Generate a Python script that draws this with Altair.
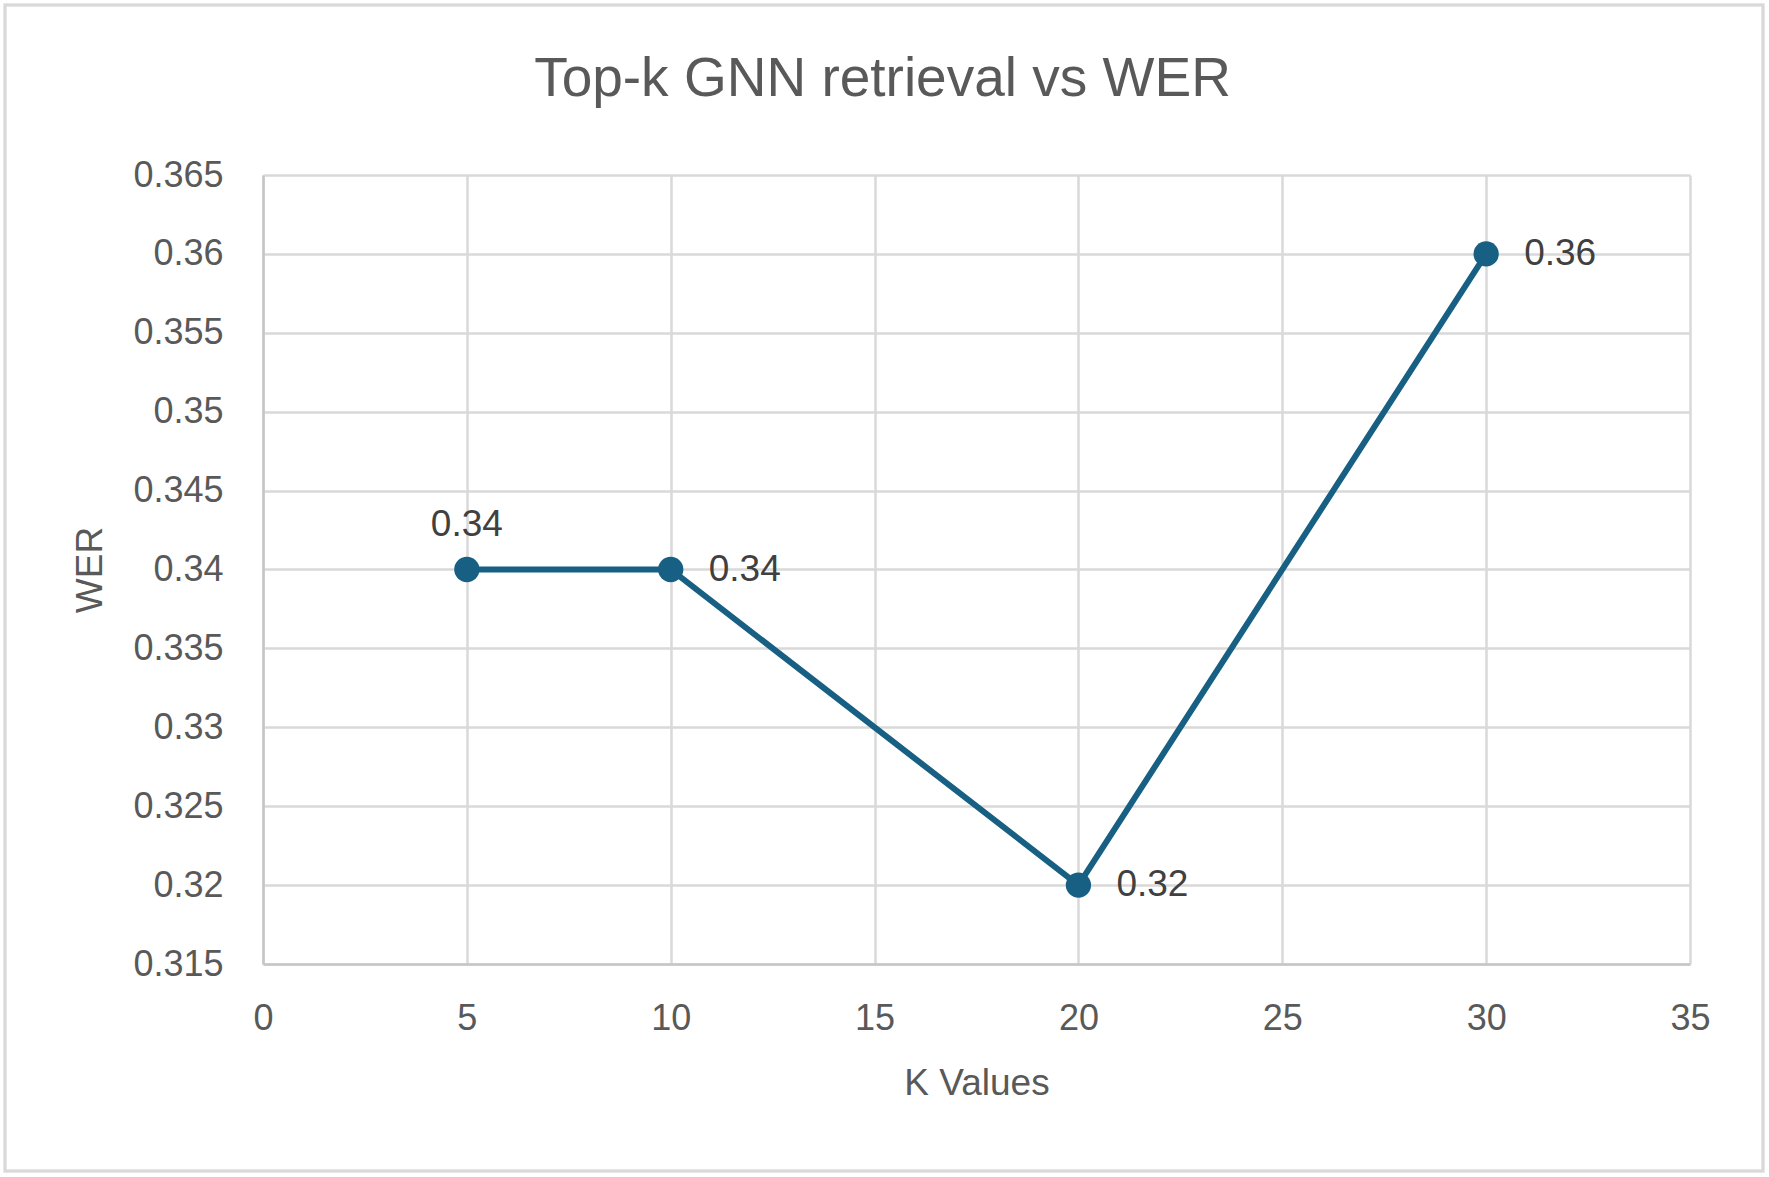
import altair as alt
import pandas as pd

# Top-k retrieval sizes and the word error rate measured at each
K_VALUES = [5, 10, 20, 30]
WER = [0.34, 0.34, 0.32, 0.36]

X_TICKS = [0, 5, 10, 15, 20, 25, 30, 35]
Y_TICKS = [0.315, 0.32, 0.325, 0.33, 0.335, 0.34, 0.345, 0.35, 0.355, 0.36, 0.365]

df = pd.DataFrame({"k": K_VALUES, "wer": WER})

FONT = "Liberation Sans"
LINE_COLOR = "#176083"
W, H = 1427, 789

x_enc = alt.X(
    "k:Q",
    title="K Values",
    scale=alt.Scale(domain=[0, 35], nice=False, zero=False),
    axis=alt.Axis(values=X_TICKS, format="d", labelFlush=False, labelOverlap=False,
                  labelPadding=37, titlePadding=29),
)
y_enc = alt.Y(
    "wer:Q",
    title="WER",
    scale=alt.Scale(domain=[0.315, 0.365], nice=False, zero=False),
    axis=alt.Axis(values=Y_TICKS, format=".3~f", labelOverlap=False,
                  labelPadding=40, titlePadding=23),
)

base = alt.Chart(df)

# light border around the whole chart
frame = base.mark_rect(fill=None, stroke="#d9d9d9", strokeWidth=2.5).encode(
    x=alt.value(-258), x2=alt.value(1500), y=alt.value(-170), y2=alt.value(996)
)

line = base.mark_line(color=LINE_COLOR, strokeWidth=6).encode(x=x_enc, y=y_enc)
points = base.mark_circle(color=LINE_COLOR, size=640, opacity=1).encode(x="k:Q", y="wer:Q")

label_style = dict(font=FONT, fontSize=37, color="#404040")
labels_above = base.transform_filter("datum.k == 5").mark_text(
    dy=-45, align="center", baseline="middle", **label_style
).encode(x="k:Q", y="wer:Q", text=alt.Text("wer:Q", format=".2f"))
labels_right = base.transform_filter("datum.k != 5").mark_text(
    dx=38, align="left", baseline="middle", **label_style
).encode(x="k:Q", y="wer:Q", text=alt.Text("wer:Q", format=".2f"))

chart = (
    alt.layer(frame, line, points, labels_above, labels_right)
    .properties(
        width=W,
        height=H,
        autosize=alt.AutoSizeParams(type="none"),
        padding={"left": 263, "top": 175, "right": 79, "bottom": 213},
        background="white",
        title=alt.TitleParams(
            "Top-k GNN retrieval vs WER",
            font=FONT, fontSize=55, fontWeight="normal", color="#595959",
            anchor="middle", frame="group", dx=-94, offset=-104,
        ),
    )
    .configure_view(stroke=None)
    .configure_axis(
        labelFont=FONT, labelFontSize=36, labelColor="#595959",
        titleFont=FONT, titleFontSize=37, titleColor="#595959", titleFontWeight="normal",
        gridColor="#d9d9d9", gridWidth=2.5, domainColor="#c6c6c6", domainWidth=2.5,
        ticks=False,
    )
)

chart.save("out.html", embed_options={"renderer": "svg", "actions": False})
